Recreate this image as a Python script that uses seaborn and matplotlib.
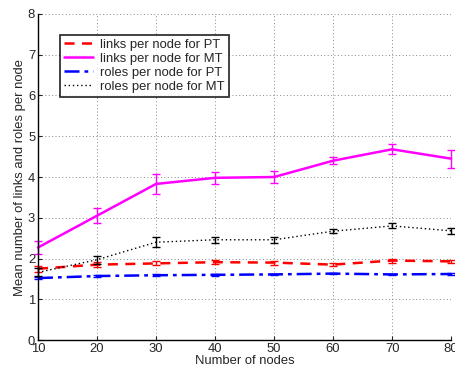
import matplotlib
matplotlib.use("Agg")
import matplotlib.pyplot as plt
import seaborn as sns
import pandas as pd

nodes = [10, 20, 30, 40, 50, 60, 70, 80]
links_pt = [1.75, 1.85, 1.88, 1.91, 1.90, 1.85, 1.95, 1.93]
links_pt_err = [0.07, 0.07, 0.05, 0.05, 0.05, 0.03, 0.05, 0.04]
links_mt = [2.27, 3.05, 3.83, 3.98, 4.00, 4.40, 4.68, 4.45]
links_mt_err = [0.17, 0.18, 0.25, 0.15, 0.15, 0.09, 0.12, 0.22]
roles_pt = [1.52, 1.57, 1.59, 1.60, 1.61, 1.63, 1.61, 1.62]
roles_pt_err = [0.02, 0.02, 0.02, 0.02, 0.02, 0.02, 0.02, 0.02]
roles_mt = [1.66, 1.97, 2.40, 2.46, 2.46, 2.67, 2.80, 2.68]
roles_mt_err = [0.10, 0.10, 0.12, 0.07, 0.08, 0.05, 0.06, 0.08]

labels = ["links per node for PT", "links per node for MT",
          "roles per node for PT", "roles per node for MT"]
colors = ["#ff0000", "#ff00ff", "#0000ff", "#000000"]
styles = [(0, (4, 3)), "-", (0, (6, 2, 1.5, 2)), (0, (1, 2))]
widths = [1.8, 1.8, 1.8, 1.0]

sns.set_style("white")
plt.rcParams["font.family"] = ["Liberation Sans", "DejaVu Sans"]
FS = 9.4

fig = plt.figure(figsize=(4.56, 3.68), dpi=100)
ax = fig.add_axes([0.0833, 0.076, 0.906, 0.886])

series = [(links_pt, links_pt_err), (links_mt, links_mt_err),
          (roles_pt, roles_pt_err), (roles_mt, roles_mt_err)]
for (vals, errs), lab, c, ls, lw in zip(series, labels, colors, styles, widths):
    df = pd.DataFrame({"n": nodes, "v": vals})
    sns.lineplot(data=df, x="n", y="v", ax=ax, color=c, linestyle=ls,
                 linewidth=lw, label=lab, clip_on=False)
    ax.errorbar(nodes, vals, yerr=errs, fmt="none", ecolor=c, elinewidth=1.0,
                capsize=3, capthick=1.0, clip_on=False)

ax.set_xlim(10, 80)
ax.set_ylim(0, 8)
ax.set_xticks(nodes)
ax.set_yticks(range(0, 9))
ax.grid(True, color="#888888", linestyle=(0, (1, 2.5)), linewidth=0.7)
for s in ["top", "right"]:
    ax.spines[s].set_visible(False)
for s in ["left", "bottom"]:
    ax.spines[s].set_color("black")
    ax.spines[s].set_linewidth(1.0)
ax.tick_params(axis="both", labelsize=FS, direction="in", length=3,
               left=True, bottom=True, pad=2)
ax.set_xlabel("Number of nodes", fontsize=FS, labelpad=0)
ax.set_ylabel("Mean number of links and roles per node", fontsize=FS, labelpad=1)

leg = ax.legend(loc="upper left", bbox_to_anchor=(0.053, 0.937), fontsize=FS,
                frameon=True, fancybox=False, handlelength=2.2,
                borderpad=0.3, labelspacing=0.15, handletextpad=0.6,
                borderaxespad=0)
leg.get_frame().set_edgecolor("black")
leg.get_frame().set_linewidth(1.3)

fig.savefig("out.png", dpi=100)
